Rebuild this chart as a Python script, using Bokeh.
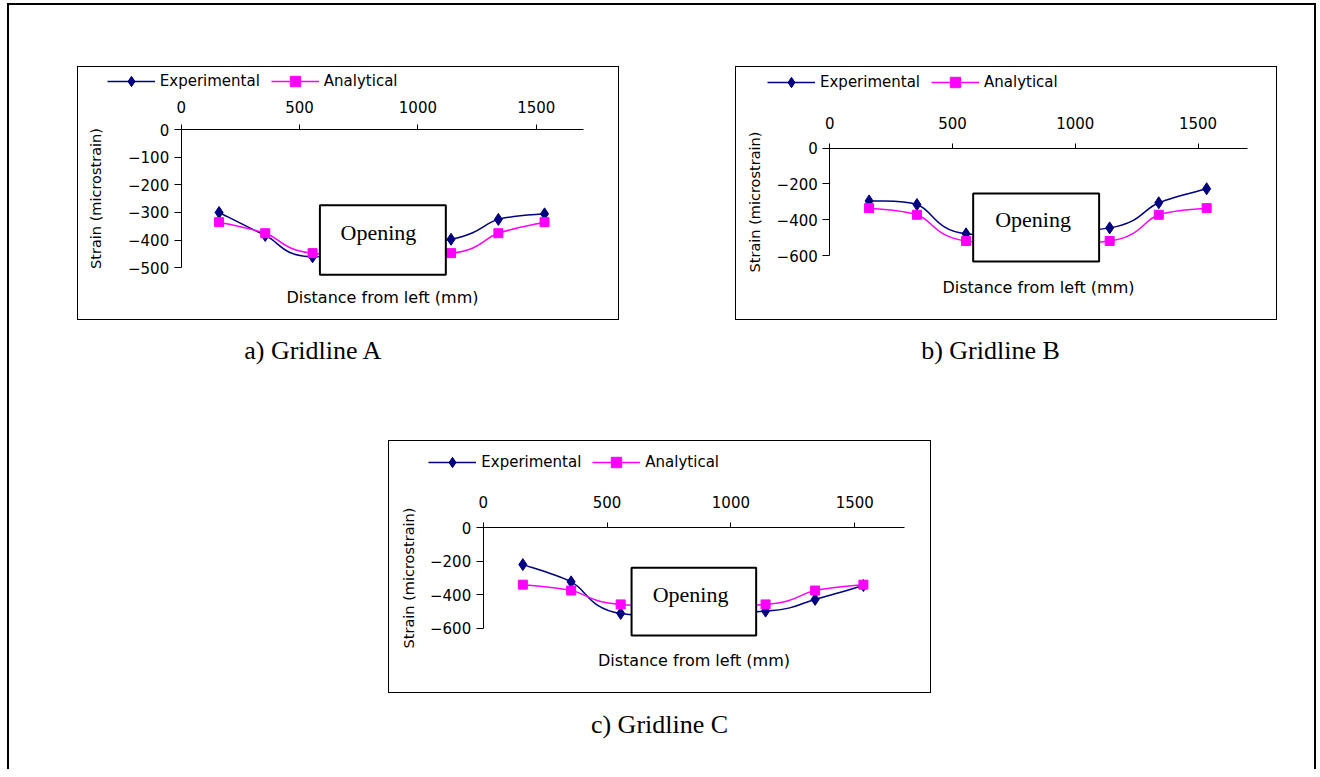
from bokeh.plotting import figure
from bokeh.models import (Range1d, LinearAxis, FixedTicker, Legend, LegendItem,
                          Label, Spacer, ColumnDataSource)
from bokeh.layouts import column, row
from bokeh.core.properties import value
from bokeh.embed import file_html
from bokeh.resources import INLINE

# ---------------- data ----------------
distance_mm = [160, 355, 555, 1140, 1340, 1535]
x_ticks = [0, 500, 1000, 1500]
x_axis_max = 1700

exp_A = [-300, -383, -460, -397, -325, -305]
ana_A = [-335, -375, -447, -447, -375, -335]
exp_B = [-295, -315, -478, -445, -305, -227]
ana_B = [-335, -372, -518, -518, -372, -335]
exp_C = [-220, -323, -512, -498, -428, -345]
ana_C = [-340, -375, -458, -458, -375, -340]

y_ticks_A = [0, -100, -200, -300, -400, -500]
y_ticks_B = [0, -200, -400, -600]
y_ticks_C = [0, -200, -400, -600]

series_labels = ["Experimental", "Analytical"]
x_title = "Distance from left (mm)"
y_title = "Strain (microstrain)"
opening_label = "Opening"
captions = ["a) Gridline A", "b) Gridline B", "c) Gridline C"]

# opening extent in mm / microstrain (left, right, top, bottom) and label point
opening_A = (586, 1118, -274, -525)
opening_B = (584, 1097, -253, -633)
opening_C = (599, 1102, -239, -644)
opening_text_A = (833, -371)
opening_text_B = (828, -401)
opening_text_C = (837, -399)

NAVY = "#000080"
MAGENTA = "#FF00FF"
SANS = "DejaVu Sans"
SERIF = "Liberation Serif"

# ---------------- page geometry (pixels) ----------------
# box = chart frame on the page; x0/y0 = where the axes cross; sx/sy = px per unit
GEO_A = dict(box=(77, 66, 619, 320), x0=180.7, y0=129.0, sx=0.2367, sy=0.2766,
             legend=(106.8, 80.7), xs=12, ys=21, ts=10, title_line=-535)
GEO_B = dict(box=(735, 66, 1277, 320), x0=829.3, y0=147.5, sx=0.2455, sy=0.1795,
             legend=(767.0, 82.3), xs=14, ys=10, ts=15, title_line=-640)
GEO_C = dict(box=(388, 440, 931, 693), x0=482.7, y0=527.3, sx=0.2477, sy=0.1673,
             legend=(428.3, 462.3), xs=15, ys=10, ts=14, title_line=-650)
LEGEND_H = 26


def bezier_segments(xs, ys, t=1.0 / 6.0):
    n = len(xs)
    d = dict(x0=[], y0=[], x1=[], y1=[], cx0=[], cy0=[], cx1=[], cy1=[])
    for i in range(n - 1):
        xp, yp = (xs[i - 1], ys[i - 1]) if i > 0 else (xs[i], ys[i])
        xn, yn = (xs[i + 2], ys[i + 2]) if i + 2 < n else (xs[i + 1], ys[i + 1])
        d["x0"].append(xs[i]); d["y0"].append(ys[i])
        d["x1"].append(xs[i + 1]); d["y1"].append(ys[i + 1])
        d["cx0"].append(xs[i] + (xs[i + 1] - xp) * t)
        d["cy0"].append(ys[i] + (ys[i + 1] - yp) * t)
        d["cx1"].append(xs[i + 1] - (xn - xs[i]) * t)
        d["cy1"].append(ys[i + 1] - (yn - ys[i]) * t)
    return d


def make_chart(exp, ana, y_ticks, opening, opening_text, g):
    bl, bt, br, bb = g["box"]
    cl, ct = bl + 1, bt + 1
    W, H = br - bl - 2, bb - bt - 2
    x_start = -(g["x0"] - cl) / g["sx"]
    x_end = x_start + W / g["sx"]
    y_end = (g["y0"] - ct) / g["sy"]
    y_start = y_end - H / g["sy"]

    p = figure(width=W, height=H, x_range=Range1d(x_start, x_end),
               y_range=Range1d(y_start, y_end),
               x_axis_location="above", output_backend="svg", toolbar_location=None,
               min_border=0, min_border_left=0, min_border_right=0,
               min_border_top=0, min_border_bottom=0,
               styles={"outline": "1px solid black", "outline-offset": "0px"})
    try:
        p.frame_align = False
    except Exception:
        pass
    p.title.visible = False
    p.grid.visible = False
    p.outline_line_color = None
    p.background_fill_color = "white"
    p.border_fill_color = "white"

    xa = p.xaxis[0]
    xa.fixed_location = 0
    xa.bounds = (0, x_axis_max)
    xa.ticker = FixedTicker(ticks=x_ticks)
    xa.major_tick_out = 5
    xa.major_tick_in = 0
    xa.minor_tick_out = 0
    xa.minor_tick_in = 0
    xa.major_label_standoff = g["xs"]
    xa.major_label_text_font = SANS
    xa.major_label_text_font_size = "15px"
    xa.major_label_text_color = "black"
    xa.axis_line_color = "black"
    xa.major_tick_line_color = "black"

    ya = p.yaxis[0]
    ya.fixed_location = 0
    ya.ticker = FixedTicker(ticks=y_ticks)
    ya.bounds = (min(y_ticks), 0)
    ya.major_tick_out = 7
    ya.major_tick_in = 0
    ya.minor_tick_out = 0
    ya.minor_tick_in = 0
    ya.major_label_standoff = 5
    ya.major_label_text_font = SANS
    ya.major_label_text_font_size = "15px"
    ya.major_label_text_color = "black"
    ya.axis_line_color = "black"
    ya.major_tick_line_color = "black"
    ya.axis_label = y_title
    ya.axis_label_text_font = SANS
    ya.axis_label_text_font_size = "14.5px"
    ya.axis_label_text_font_style = "normal"
    ya.axis_label_text_color = "black"
    ya.axis_label_standoff = g["ys"]

    bx = LinearAxis(ticker=FixedTicker(ticks=[]), axis_label=x_title,
                    fixed_location=g["title_line"], bounds=(0, x_axis_max),
                    axis_line_color=None, major_tick_out=0, major_tick_in=0,
                    minor_tick_out=0, minor_tick_in=0,
                    axis_label_standoff=g["ts"], axis_label_text_font=SANS,
                    axis_label_text_font_size="16px", axis_label_text_font_style="normal",
                    axis_label_text_color="black")
    p.add_layout(bx, "below")

    se = ColumnDataSource(bezier_segments(distance_mm, exp))
    sa = ColumnDataSource(bezier_segments(distance_mm, ana))
    r_el = p.bezier(x0="x0", y0="y0", x1="x1", y1="y1", cx0="cx0", cy0="cy0",
                    cx1="cx1", cy1="cy1", source=se, line_color=NAVY, line_width=1.5)
    r_em = p.scatter(distance_mm, exp, marker="diamond", size=12,
                     fill_color=NAVY, line_color=NAVY)
    r_al = p.bezier(x0="x0", y0="y0", x1="x1", y1="y1", cx0="cx0", cy0="cy0",
                    cx1="cx1", cy1="cy1", source=sa, line_color=MAGENTA, line_width=1.5)
    r_am = p.scatter(distance_mm, ana, marker="square", size=9,
                     fill_color=MAGENTA, line_color=MAGENTA)

    p.quad(left=[opening[0]], right=[opening[1]], top=[opening[2]], bottom=[opening[3]],
           fill_color="white", line_color="black", line_width=2)
    p.text(x=[opening_text[0]], y=[opening_text[1]], text=[opening_label],
           text_font=value(SERIF), text_font_size="22px", text_align="center",
           text_baseline="middle", text_color="black")

    lx_abs, lc_abs = g["legend"]
    vx = lx_abs - cl
    vy = H - (lc_abs - ct) - LEGEND_H / 2
    legend = Legend(items=[LegendItem(label=series_labels[0], renderers=[r_el, r_em]),
                           LegendItem(label=series_labels[1], renderers=[r_al, r_am])],
                    location=(vx, vy), orientation="horizontal",
                    margin=0, padding=0, spacing=11, glyph_width=48, glyph_height=LEGEND_H,
                    label_standoff=5, label_height=16, label_text_font=SANS,
                    label_text_font_size="15px", label_text_color="black",
                    border_line_color=None, background_fill_alpha=0)
    p.add_layout(legend)
    return p


def caption_fig(text, w=300, h=40):
    c = figure(width=w, height=h, x_range=Range1d(0, 1), y_range=Range1d(0, 1),
               output_backend="svg", toolbar_location=None, min_border=0,
               x_axis_type=None, y_axis_type=None)
    c.title.visible = False
    c.outline_line_color = None
    c.add_layout(Label(x=w / 2, y=h / 2, x_units="screen", y_units="screen", text=text,
                       text_font=SERIF, text_font_size="26px", text_align="center",
                       text_baseline="middle", text_color="black"))
    return c


pA = make_chart(exp_A, ana_A, y_ticks_A, opening_A, opening_text_A, GEO_A)
pB = make_chart(exp_B, ana_B, y_ticks_B, opening_B, opening_text_B, GEO_B)
pC = make_chart(exp_C, ana_C, y_ticks_C, opening_C, opening_text_C, GEO_C)

capA = caption_fig(captions[0])
capB = caption_fig(captions[1])
capC = caption_fig(captions[2])

# content origin of the outer frame is (9, 5): margin (7, 3) + 2px border
layout = column(
    Spacer(width=10, height=62),
    row(Spacer(width=69, height=10), pA, Spacer(width=118, height=10), pB),
    Spacer(width=10, height=11),
    row(Spacer(width=154, height=10), capA, Spacer(width=377, height=10), capB),
    Spacer(width=10, height=71),
    row(Spacer(width=380, height=10), pC),
    Spacer(width=10, height=12),
    row(Spacer(width=500, height=10), capC),
    Spacer(width=1305, height=25),
    margin=(3, 0, 0, 7),
    styles={"border-left": "2px solid black", "border-right": "2px solid black",
            "border-top": "2px solid black"},
)

open("out.html", "w").write(file_html(layout, INLINE))
